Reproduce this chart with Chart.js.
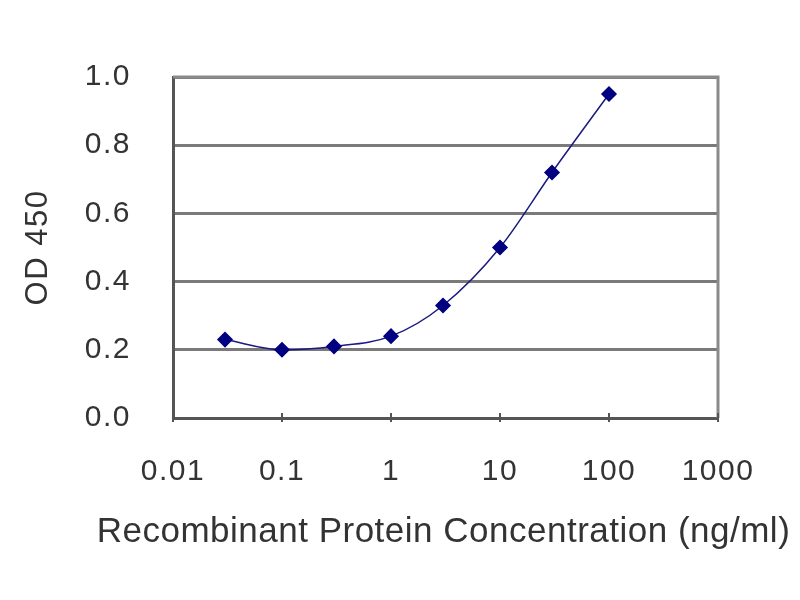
<!DOCTYPE html>
<html>
<head>
<meta charset="utf-8">
<script src="https://cdn.jsdelivr.net/npm/chart.js@4.4.1/dist/chart.umd.min.js"></script>
<style>
  html, body { margin: 0; padding: 0; background: #fff; }
  #wrap { width: 800px; height: 600px; }
</style>
</head>
<body>
<div id="wrap"><canvas id="chart" width="800" height="600"></canvas></div>
<script>
// concentrations (ng/ml) and OD 450 readings
const concentrations = [0.03, 0.1, 0.3, 1, 3, 10, 30, 100];
const odValues = [0.23, 0.20, 0.21, 0.24, 0.33, 0.50, 0.72, 0.95];
const xTickValues = [0.01, 0.1, 1, 10, 100, 1000];
const yTickValues = [0.0, 0.2, 0.4, 0.6, 0.8, 1.0];
const xTitle = "Recombinant Protein Concentration (ng/ml)";
const yTitle = "OD 450";

const points = concentrations.map((c, i) => ({ x: c, y: odValues[i] }));
const textColor = "#333";
const fontFamily = "'Liberation Sans', Arial, sans-serif";

new Chart(document.getElementById("chart").getContext("2d"), {
    type: "line",
    data: {
        datasets: [{
            data: points,
            borderColor: "#1a1a80",
            borderWidth: 1.5,
            backgroundColor: "#000080",
            pointStyle: "rectRot",
            pointRadius: 7,
            pointBorderColor: "#000080",
            cubicInterpolationMode: "monotone",
            fill: false
        }]
    },
    options: {
        responsive: false,
        animation: false,
        layout: { padding: { left: 20, top: 77, right: 82, bottom: 50 } },
        plugins: { legend: { display: false }, tooltip: { enabled: false } },
        scales: {
            x: {
                type: "logarithmic",
                min: 0.01,
                max: 1000,
                afterBuildTicks: (scale) => {
                    scale.ticks = xTickValues.map(v => ({ value: v }));
                },
                afterFit: (scale) => { scale.height = 600 - 418 - 50; },
                grid: { display: false, drawTicks: false },
                border: { display: true, color: "#555", width: 3 },
                ticks: {
                    color: textColor,
                    padding: 36,
                    maxRotation: 0,
                    autoSkip: false,
                    font: { family: fontFamily, size: 30 },
                    callback: (v) => String(v)
                },
                // drawn by the plugin below so it isn't squeezed to the plot width
                title: { display: false }
            },
            y: {
                min: 0,
                max: 1,
                afterBuildTicks: (scale) => {
                    scale.ticks = yTickValues.map(v => ({ value: v }));
                },
                afterFit: (scale) => { scale.width = 173 - 20; },
                grid: { color: "#7a7a7a", lineWidth: 3, drawTicks: false },
                border: { display: true, color: "#555", width: 3 },
                ticks: {
                    color: textColor,
                    padding: 42,
                    font: { family: fontFamily, size: 30 },
                    callback: (v) => Number(v).toFixed(1)
                },
                title: {
                    display: true,
                    text: yTitle,
                    color: textColor,
                    font: { family: fontFamily, size: 31 },
                    padding: 0
                }
            }
        }
    },
    plugins: [{
        id: "frame",
        beforeDraw(chart) {
            // the original lettering is a bit wider than Liberation Sans
            chart.ctx.letterSpacing = "1.5px";
        },
        beforeDatasetsDraw(chart) {
            const { ctx, chartArea: a } = chart;
            ctx.save();
            ctx.strokeStyle = "#8a8a8a";
            ctx.lineWidth = 3;
            ctx.beginPath();
            ctx.moveTo(a.left, a.top);
            ctx.lineTo(a.right, a.top);
            ctx.lineTo(a.right, a.bottom);
            ctx.stroke();
            // small decade ticks on the bottom axis
            const xs = chart.scales.x;
            ctx.strokeStyle = "#555";
            ctx.lineWidth = 2;
            xTickValues.forEach(v => {
                const px = xs.getPixelForValue(v);
                ctx.beginPath();
                ctx.moveTo(px, a.bottom - 5);
                ctx.lineTo(px, a.bottom + 4);
                ctx.stroke();
            });
            ctx.restore();
        },
        afterDraw(chart) {
            const { ctx, chartArea: a } = chart;
            ctx.save();
            ctx.letterSpacing = "0.5px";
            ctx.font = "35px " + fontFamily;
            ctx.fillStyle = textColor;
            ctx.textAlign = "center";
            ctx.textBaseline = "alphabetic";
            ctx.fillText(xTitle, (a.left + a.right) / 2 - 2, 542);
            ctx.restore();
        }
    }]
});
</script>
</body>
</html>
